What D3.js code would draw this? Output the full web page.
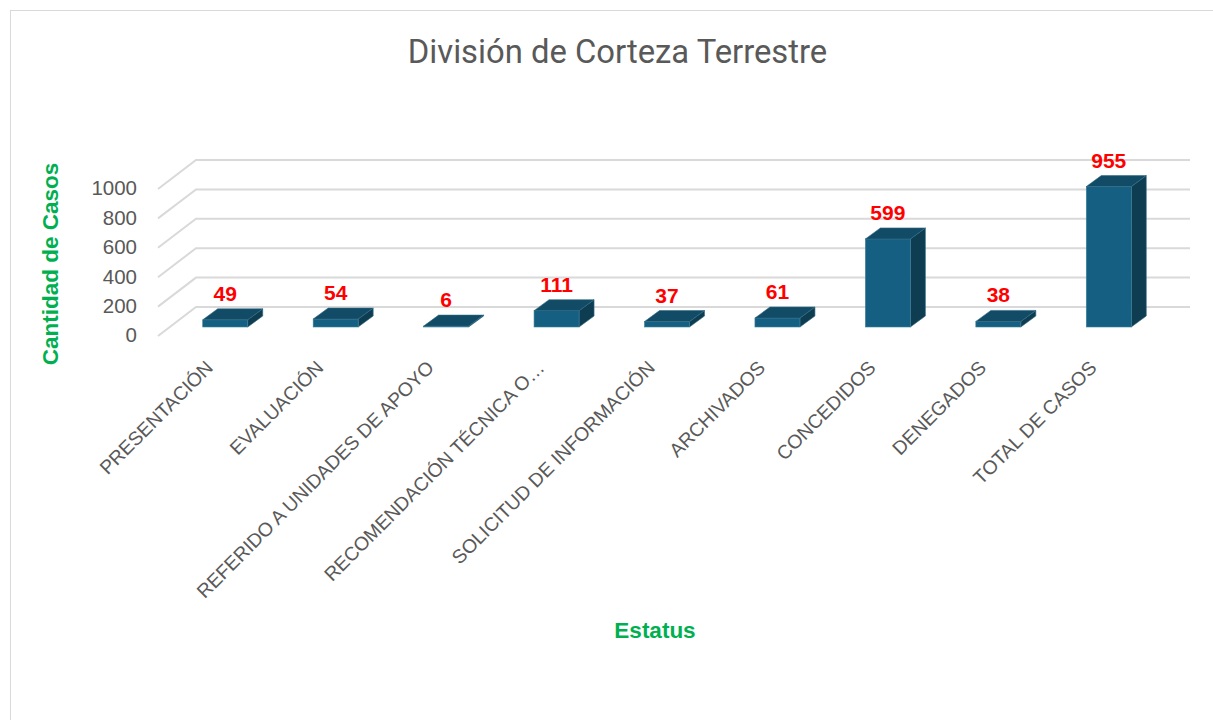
<!DOCTYPE html>
<html><head><meta charset="utf-8">
<script src="https://cdn.jsdelivr.net/npm/d3@7/dist/d3.min.js"></script>
<style>body{margin:0;background:#fff}svg{display:block}</style>
</head><body><svg id="c" width="1213" height="720"></svg>
<script>
const categories = ["PRESENTACIÓN","EVALUACIÓN","REFERIDO A UNIDADES DE APOYO","RECOMENDACIÓN TÉCNICA O…","SOLICITUD DE INFORMACIÓN","ARCHIVADOS","CONCEDIDOS","DENEGADOS","TOTAL DE CASOS"];
const values = [49,54,6,111,37,61,599,38,955];
const yTicks = [0,200,400,600,800,1000];
const titleText = "División de Corteza Terrestre";
const yTitle = "Cantidad de Casos";
const xTitle = "Estatus";

const svg = d3.select("#c");
svg.append("rect").attr("x",10.5).attr("y",10.5).attr("width",1230).attr("height",730)
  .attr("fill","#fff").attr("stroke","#d9d9d9").attr("stroke-width",1);

// geometry
const backLeft = 196, backRight = 1190, back0 = 307;
const depthX = 38, depthY = 29;          // floor depth
const barOffX = 12, barOffY = 9;         // front plane of bars from floor front
const barDX = 15, barDY = 11;            // bar depth
const h = d3.scaleLinear().domain([0,1000]).range([0,147]);
const yBack = v => back0 - h(v);
const x = d3.scaleBand().domain(categories)
  .range([backLeft - depthX + barOffX, backRight - depthX + barOffX]);
const bw = 45;
const barBase = back0 + depthY - barOffY;

// gridlines
const g = svg.append("g");
yTicks.forEach(t => {
  const yb = yBack(t);
  g.append("path")
   .attr("d", `M${backLeft - depthX},${yb + depthY}L${backLeft},${yb}L${backRight},${yb}`)
   .attr("fill","none").attr("stroke","#d9d9d9").attr("stroke-width",2);
});

// y tick labels
svg.append("g").selectAll("text").data(yTicks).join("text")
  .attr("x",137).attr("y",d => yBack(d) + depthY - 1).attr("dy","0.36em")
  .attr("text-anchor","end").attr("fill","#595959")
  .attr("font-family","Liberation Sans, Arial, sans-serif").attr("font-size",20.5)
  .text(d => d);

// bars
const bars = svg.append("g").selectAll("g").data(values).join("g");
bars.each(function(v,i){
  const s = d3.select(this);
  const cx = x(categories[i]) + x.bandwidth()/2;
  const x0 = cx - bw/2, x1 = cx + bw/2;
  const yt = barBase - h(v), yb = barBase;
  s.append("path").attr("d",`M${x1},${yt}L${x1+barDX},${yt-barDY}L${x1+barDX},${yb-barDY}L${x1},${yb}Z`)
    .attr("fill","#0e3d52").attr("stroke","#2f6a85").attr("stroke-width",0.6);
  s.append("rect").attr("x",x0).attr("y",yt).attr("width",bw).attr("height",h(v))
    .attr("fill","#156082").attr("stroke","#3f7f9c").attr("stroke-width",0.6);
  s.append("path").attr("d",`M${x0},${yt}L${x0+barDX},${yt-barDY}L${x1+barDX},${yt-barDY}L${x1},${yt}Z`)
    .attr("fill","#124b65").attr("stroke","#2f6a85").attr("stroke-width",0.6);
  s.append("text").attr("x",cx).attr("y",yt - barDY - 8)
    .attr("text-anchor","middle").attr("fill","#ff0000").attr("font-weight","bold")
    .attr("font-family","Liberation Sans, Arial, sans-serif").attr("font-size",21)
    .text(v);
});

// x labels
svg.append("g").selectAll("text").data(categories).join("text")
  .attr("transform", d => `translate(${x(d) + x.bandwidth()/2 - 11},${369}) rotate(-45)`)
  .attr("text-anchor","end").attr("fill","#595959")
  .attr("font-family","Liberation Sans, Arial, sans-serif").attr("font-size",19.3)
  .text(d => d);

// titles
svg.append("text").attr("x",617.5).attr("y",63).attr("text-anchor","middle")
  .attr("fill","#595959").attr("font-family","Roboto, sans-serif").attr("font-size",32.8)
  .text(titleText);
svg.append("text").attr("transform","translate(58,264) rotate(-90)").attr("text-anchor","middle")
  .attr("fill","#00b050").attr("font-weight","bold")
  .attr("font-family","Liberation Sans, Arial, sans-serif").attr("font-size",22.5)
  .text(yTitle);
svg.append("text").attr("x",655).attr("y",638).attr("text-anchor","middle")
  .attr("fill","#00b050").attr("font-weight","bold")
  .attr("font-family","Liberation Sans, Arial, sans-serif").attr("font-size",22.5)
  .text(xTitle);
</script></body></html>
